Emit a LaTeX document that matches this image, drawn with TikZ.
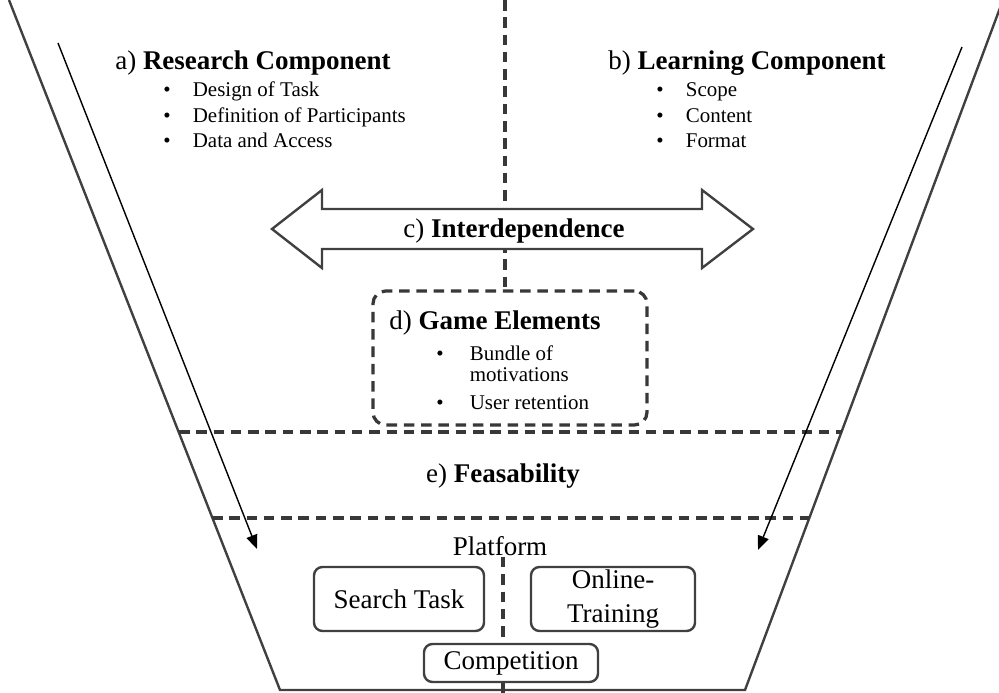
\documentclass[tikz,border=0pt]{standalone}
\usepackage{fontspec}
\setmainfont{Liberation Serif}
\usetikzlibrary{arrows.meta}
\def\itemlist#1#2{\begin{tabular}[t]{@{}p{#1}@{}l@{}}#2\end{tabular}}
\tikzset{
	funnel/.style={draw=black!75, line width=1.7pt},
	sep/.style={draw=black!78, line width=2.3pt, dash pattern=on 7.5pt off 4.8pt},
	flow/.style={black, line width=1pt, -{Triangle[length=10pt,width=8pt]}},
	head/.style={font=\fontsize{19.2}{22}\selectfont, inner sep=0pt},
	items/.style={font=\fontsize{14.9}{18.1}\selectfont, inner sep=0pt, anchor=base west},
	platbox/.style={draw=black!75, line width=1.7pt, rounded corners=6pt, fill=white, inner sep=0pt, align=center, font=\fontsize{19.2}{24.5}\selectfont}
}
\begin{document}
\begin{tikzpicture}[x=0.25mm, y=-0.25mm]
			%%%%% START %%%%%
			
			\clip (0,0) rectangle (999,693);
			
			\draw[funnel] (9,0) -- (280,690) -- (745,690) -- (1003,0);
			
			\coordinate (ctop) at (505,0);
			\coordinate (cbot) at (503,693);
			
			\draw[sep] (179,432) -- (842,432);
			\draw[sep] (212,518) -- (809,518);
			
			\node[draw=black!78, line width=2.3pt, dash pattern=on 7.5pt off 4.8pt, rounded corners=9pt, minimum width=68.5mm, minimum height=33.5mm] (game) at (510,358) {};
			\draw[sep] (ctop) -- (game.north -| ctop);
			
			\draw[draw=black!75, line width=1.7pt, fill=white] (272,229) -- (322,190) -- (322,209) -- (702,209) -- (702,190) -- (753,229) -- (702,268) -- (702,249) -- (322,249) -- (322,268) -- cycle;
			
			\coordinate (lstart) at (58,43);
			\coordinate (lend) at (257,549);
			\coordinate (rstart) at (962,47);
			\coordinate (rend) at (758,550);
			\draw[flow] (lstart) -- (lend);
			\draw[flow] (rstart) -- (rend);
			
			\node[head, anchor=base west] (research) at (115,70) {a) \textbf{Research Component}};
			\node[items] (researchlist) at (163,97) {\itemlist{7.4mm}{\textbullet & Design of Task\\ \textbullet & Definition of Participants\\ \textbullet & Data and Access}};
			
			\node[head, anchor=base west] (learning) at (608,70) {b) \textbf{Learning Component}};
			\node[items] (learninglist) at (656,97) {\itemlist{7.4mm}{\textbullet & Scope\\ \textbullet & Content\\ \textbullet & Format}};
			
			\node[head, anchor=base] (inter) at (514,238) {c) \textbf{Interdependence}};
			
			\node[head, anchor=base] (gametitle) at (495,330) {d) \textbf{Game Elements}};
			\node[items] (gamelist) at (436,360) {\itemlist{8.4mm}{\textbullet & Bundle of\\[-2.5pt] & motivations\\[1.5pt] \textbullet & User retention}};
			
			\node[head, anchor=base] (feas) at (503,482) {e) \textbf{Feasability}};
			
			\node[head, anchor=base, fill=white, inner sep=1pt] (plat) at (500,555) {Platform};
			\node[platbox, minimum width=42.5mm, minimum height=16mm] (search) at (399,599) {Search Task};
			\node[platbox, minimum width=41mm, minimum height=16mm] (online) at (613,599) {Online-\\Training};
			\node[platbox, minimum width=43.5mm, minimum height=9.5mm] (comp) at (511,663) {Competition};
			
			\draw[sep] (plat.south -| cbot) -- (comp.north -| cbot);
			\draw[sep] (comp.south -| cbot) -- (cbot);
			
			%%%%% END %%%%%
\end{tikzpicture}
\end{document}
